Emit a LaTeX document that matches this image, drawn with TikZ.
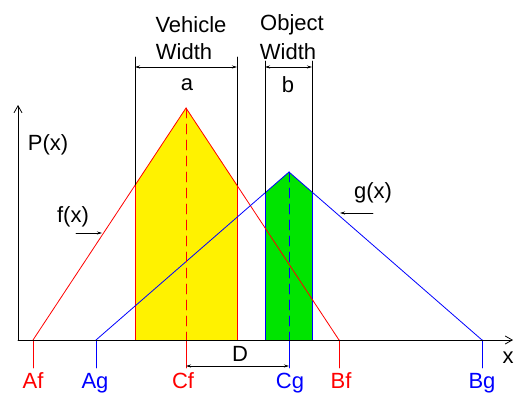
\documentclass[tikz,border=0pt]{standalone}
\usepackage{fontspec}
\setmainfont{Liberation Sans}
\usetikzlibrary{arrows.meta,calc}
\definecolor{fgreen}{RGB}{0,228,0}
\tikzset{
  lbl/.style={inner sep=0pt,font=\fontsize{22}{24}\selectfont},
  dim/.style={line width=0.7pt,{Stealth[length=5pt,width=3pt]}-{Stealth[length=5pt,width=3pt]}},
  axis/.style={line width=0.8pt,-{Straight Barb[length=7pt,width=8pt]}}
}
\begin{document}
\begin{tikzpicture}[x=1pt,y=-1pt,line cap=round,line width=0.8pt]
\useasboundingbox (0,0) rectangle (514,394);

% --- Punti ---
\coordinate (O) at (18,340);
\coordinate (Af) at (33,340);
\coordinate (Ag) at (96,340);
\coordinate (Cf) at (186,340);
\coordinate (Cg) at (289,340);
\coordinate (Bf) at (339,340);
\coordinate (Bg) at (482,340);
\coordinate (Pf) at (186,108);
\coordinate (Pg) at (289,172);

% --- Aree ---
\fill[yellow] (135,340) -- (135,185) -- (Pf) -- (237,185) -- (237,340) -- cycle;
\fill[fgreen] (265,340) -- (265,193) -- (Pg) -- (312,192) -- (312,340) -- cycle;
\draw[red] (135,185) -- (135,340);
\draw[red] (237,185) -- (237,340);
\draw[blue] (265,193) -- (265,340);
\draw[blue] (312,192) -- (312,340);

% --- f(x) e g(x) ---
\draw[red] (Af) -- (Pf) -- (Bf);
\draw[blue] (Ag) -- (Pg) -- (Bg);
\draw[red,dash pattern=on 10pt off 6pt] (Pf) -- (Cf);
\draw[blue,dash pattern=on 10pt off 6pt] (Pg) -- (Cg);

% --- Tacche ---
\draw[red] (Af) -- ++(0,28);
\draw[blue] (Ag) -- ++(0,28);
\draw[red] (Cf) -- ++(0,28);
\draw[blue] (Cg) -- ++(0,28);
\draw[red] (Bf) -- ++(0,28);
\draw[blue] (Bg) -- ++(0,28);

% --- Assi ---
\draw[axis] (O) -- (18,105);
\draw[axis] (O) -- (513,340);

% --- Larghezze ---
\draw (135,57) -- (135,185);
\draw (237,57) -- (237,185);
\draw (265,61) -- (265,193);
\draw (312,61) -- (312,192);
\draw[dim] (135,67) -- (237,67);
\draw[dim] (265,67) -- (312,67);
\draw[dim] ($(Cf)+(0,26)$) -- ($(Cg)+(0,26)$);

% --- Etichette ---
\node[lbl] (veh) at (191,25) {Vehicle};
\node[lbl] (vw) at (184,52) {Width};
\node[lbl] (obj) at (292,25) {Object};
\node[lbl] (ow) at (288,52) {Width};
\node[lbl] (a) at (187,85) {a};
\node[lbl] (b) at (288,85) {b};
\node[lbl] (P) at (48,145) {P(x)};
\node[lbl] (f) at (73,217) {f(x)};
\node[lbl] (g) at (373,193) {g(x)};
\node[lbl] (D) at (240,354) {D};
\node[lbl,anchor=east] (xl) at (514,358) {x};
\draw[->,>={Stealth[length=5pt,width=3pt]},line width=0.7pt] (76,233) -- (102,233);
\draw[->,>={Stealth[length=5pt,width=3pt]},line width=0.7pt] (373,213) -- (340,213);

\node[lbl,red,anchor=base] (tAf) at (33,388) {Af};
\node[lbl,blue,anchor=base] (tAg) at (95,388) {Ag};
\node[lbl,red,anchor=base] (tCf) at (183,388) {Cf};
\node[lbl,blue,anchor=base] (tCg) at (290,388) {Cg};
\node[lbl,red,anchor=base] (tBf) at (341,388) {Bf};
\node[lbl,blue,anchor=base] (tBg) at (482,388) {Bg};

\end{tikzpicture}
\end{document}
